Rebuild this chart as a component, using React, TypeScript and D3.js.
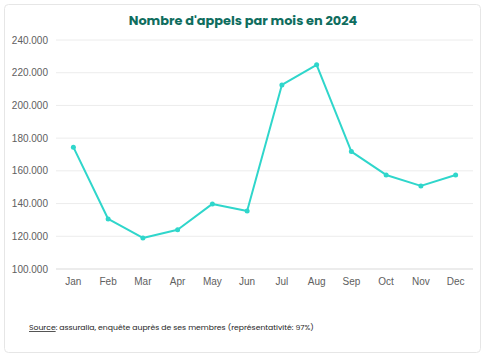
import React from "react";
import * as d3 from "d3";

const months = ["Jan", "Feb", "Mar", "Apr", "May", "Jun", "Jul", "Aug", "Sep", "Oct", "Nov", "Dec"];
const calls = [174500, 130600, 119000, 124000, 139800, 135500, 212500, 224800, 171800, 157500, 150800, 157500];
const yTicks = [100000, 120000, 140000, 160000, 180000, 200000, 220000, 240000];
const title = "Nombre d'appels par mois en 2024";

const W = 487, H = 355;
const left = 56, right = 473, top = 40, bottom = 269;

const fmt = (v: number) => d3.format(",")(v).replace(/,/g, ".");

export default function App() {
  const x = d3.scaleBand<string>().domain(months).range([left, right]);
  const y = d3.scaleLinear().domain([100000, 240000]).range([bottom, top]);
  const line = d3.line<number>()
    .x((_, i) => (x(months[i]) as number) + x.bandwidth() / 2)
    .y((d) => y(d));
  const tickFont = "'Liberation Sans', Arial, sans-serif";
  return (
    <svg width={W} height={H} style={{ position: "absolute", left: 0, top: 0 }}>
      <rect x={4.5} y={4.5} width={476} height={348} rx={4} fill="#fff" stroke="#e6e6e6" />
      <text x={243} y={25} textAnchor="middle" fontFamily="Poppins, 'Open Sans', sans-serif" fontWeight={700} fontSize={12.9} fill="#0f6d5e">
        {title}
      </text>
      {yTicks.map((t) => (
        <g key={t}>
          <line x1={left} x2={right} y1={y(t)} y2={y(t)} stroke={t === 100000 ? "#d9d9d9" : "#ececec"} strokeWidth={1} />
          <text x={48} y={y(t) + 3.5} textAnchor="end" fontFamily={tickFont} fontSize={10} fill="#606060">
            {fmt(t)}
          </text>
        </g>
      ))}
      {months.map((m) => (
        <text key={m} x={(x(m) as number) + x.bandwidth() / 2} y={285} textAnchor="middle" fontFamily={tickFont} fontSize={10} fill="#606060">
          {m}
        </text>
      ))}
      <path d={line(calls) || ""} fill="none" stroke="#2fd6cb" strokeWidth={2} strokeLinejoin="round" />
      {calls.map((v, i) => (
        <circle key={i} cx={(x(months[i]) as number) + x.bandwidth() / 2} cy={y(v)} r={2.5} fill="#2fd6cb" />
      ))}
      <text x={29} y={330} fontFamily="Poppins, 'Open Sans', sans-serif" fontSize={7.7} fill="#222">
        <tspan textDecoration="underline">Source</tspan>
        <tspan>: assuralia, enquête auprès de ses membres (représentativité: 97%)</tspan>
      </text>
    </svg>
  );
}
